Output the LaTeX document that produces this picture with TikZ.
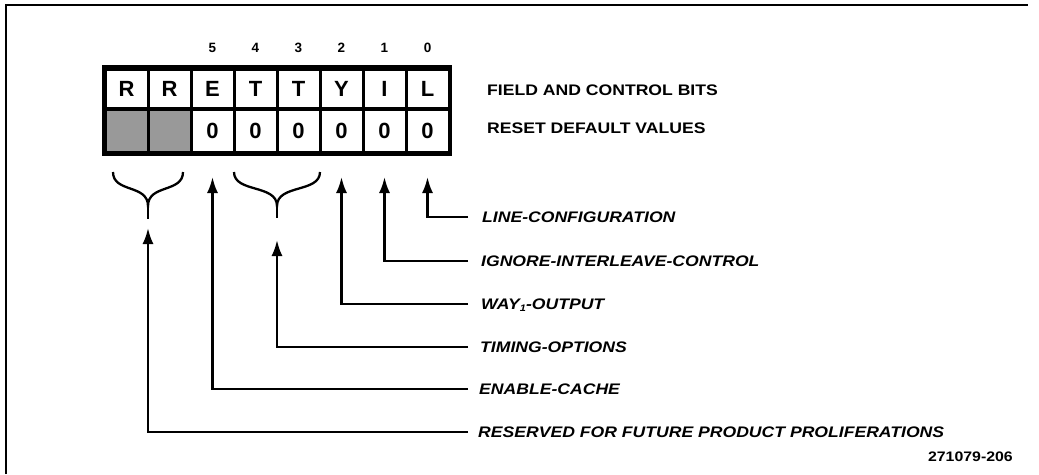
\documentclass[tikz,border=0pt]{standalone}
\usepackage{fontspec}
\setmainfont{Liberation Sans}
\newfontfamily\lblfont{Liberation Sans}[FakeStretch=1.15]
\usetikzlibrary{arrows.meta}
\begin{document}
\begin{tikzpicture}[x=1pt,y=-1pt,
  frame/.style={line width=2.5pt},
  cellbox/.style={fill=white,inner sep=0pt,minimum width=40pt,font=\fontsize{22}{22}\selectfont\bfseries},
  toprow/.style={cellbox,minimum height=36pt},
  botrow/.style={cellbox,minimum height=40pt},
  shaded/.style={botrow,fill=black!40},
  bitnum/.style={inner sep=0pt,font=\fontsize{13.5}{13.5}\selectfont\bfseries},
  heading/.style={anchor=west,inner sep=0pt,font=\lblfont\fontsize{15.3}{16}\selectfont\bfseries},
  fieldlbl/.style={anchor=west,inner sep=0pt,font=\lblfont\fontsize{15.3}{16}\selectfont\bfseries\itshape},
  conn/.style={line width=2.3pt,-{Latex[length=16pt,width=11pt]}},
  bracestyle/.style={line width=2.3pt},
]
\useasboundingbox (0,0) rectangle (1039,474);
\draw[frame] (6,474) -- (6,5) -- (1028,5);
% register
\node[fill=black,inner sep=0pt,minimum width=350pt,minimum height=91pt] (reg) at (276.5,110.5) {};
\foreach \i/\t in {0/R,1/R,2/E,3/T,4/T,5/Y,6/I,7/L}
  \node[toprow] (t\i) at ({126.5+43*\i},89) {\t};
\node[shaded] (b0) at (126.5,131) {};
\node[shaded] (b1) at (169.5,131) {};
\foreach \i in {2,...,7}
  \node[botrow] (b\i) at ({126.5+43*\i},131) {0};
\foreach \i/\n in {2/5,3/4,4/3,5/2,6/1,7/0}
  \node[bitnum] (n\i) at ({126.5+43*\i},47.5) {\n};
% headings
\node[heading] (hf) at (487,90) {FIELD AND CONTROL BITS};
\node[heading] (hr) at (487,128) {RESET DEFAULT VALUES};
% field labels
\node[fieldlbl] (lL) at (482,217) {LINE-CONFIGURATION};
\node[fieldlbl] (lI) at (481,261) {IGNORE-INTERLEAVE-CONTROL};
\node[fieldlbl] (lY) at (481,304) {WAY\smash{\raisebox{-2.5pt}{\fontsize{9.5}{9.5}\selectfont 1}}-OUTPUT};
\node[fieldlbl] (lT) at (480,347) {TIMING-OPTIONS};
\node[fieldlbl] (lE) at (479,389) {ENABLE-CACHE};
\node[fieldlbl] (lR) at (478,432) {RESERVED FOR FUTURE PRODUCT PROLIFERATIONS};
\node[heading,anchor=east,font=\lblfont\fontsize{13.8}{14}\selectfont\bfseries] (fig) at (1013,457) {271079-206};
% tips
\coordinate (tipL) at (427.5,177);
\coordinate (tipI) at (384.5,177);
\coordinate (tipY) at (341.5,177);
\coordinate (tipE) at (212.5,177);
\coordinate (tipR) at (148,228);
\coordinate (tipT) at (277,240);
% braces
\draw[bracestyle] (113,172) .. controls (113,193) and (148,184) .. (148,206)
   .. controls (148,184) and (183,193) .. (183,172);
\draw[bracestyle] (148,206) -- (148,219);
\draw[bracestyle] (234,172) .. controls (234,193) and (277,184) .. (277,206)
   .. controls (277,184) and (320,193) .. (320,172);
\draw[bracestyle] (277,206) -- (277,218);
% connectors
\draw[conn] ([xshift=-14pt]lL.west) -| (tipL);
\draw[conn] ([xshift=-13pt]lI.west) -| (tipI);
\draw[conn] ([xshift=-13pt]lY.west) -| (tipY);
\draw[conn] ([xshift=-12pt]lT.west) -| (tipT);
\draw[conn] ([xshift=-11pt]lE.west) -| (tipE);
\draw[conn] ([xshift=-10pt]lR.west) -| (tipR);
\end{tikzpicture}
\end{document}
